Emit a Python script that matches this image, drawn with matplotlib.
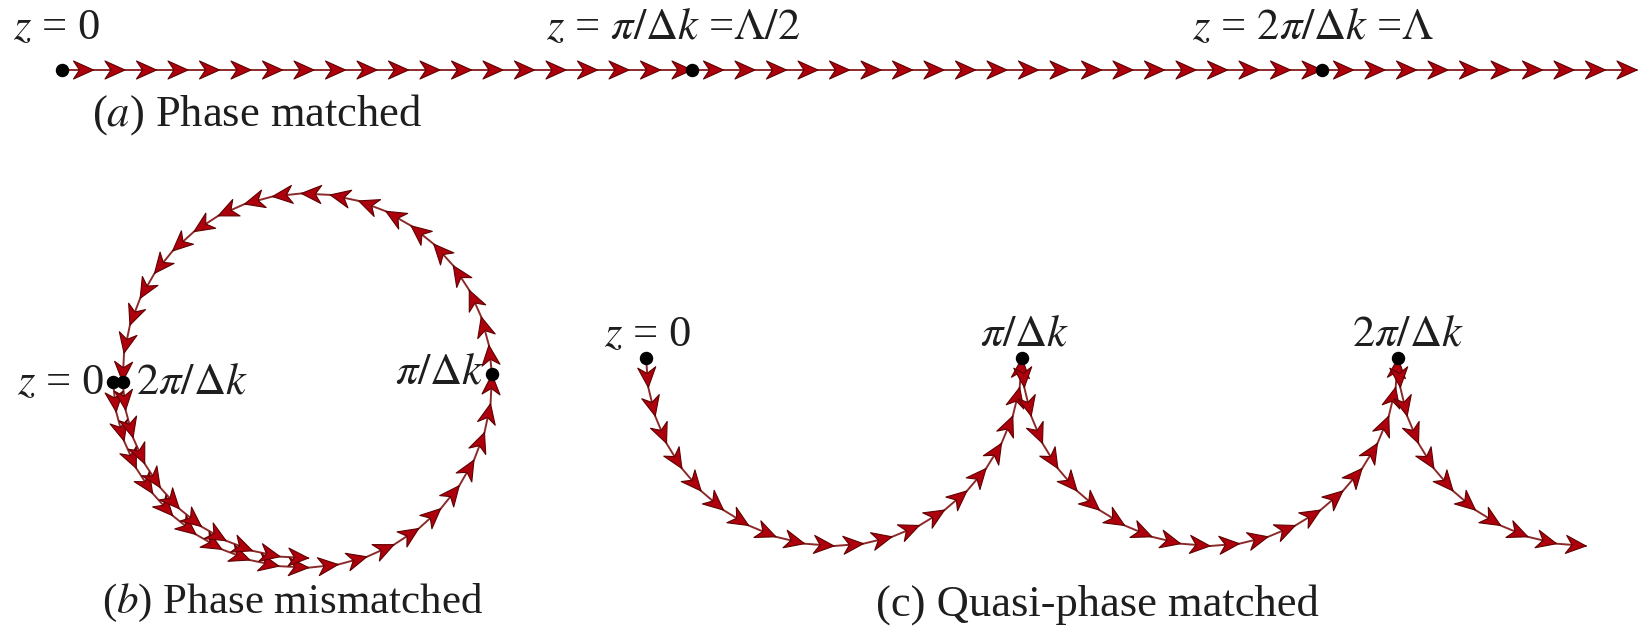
## Phasor diagrams for phase matching / mismatch / quasi-phase matching
import numpy as np
import matplotlib
matplotlib.use('Agg')
import matplotlib.pyplot as plt
from matplotlib.patches import Polygon
from matplotlib.collections import PatchCollection

plt.rcParams['mathtext.fontset'] = 'stix'
plt.rcParams['font.family'] = ['Liberation Serif', 'DejaVu Serif']

## Phasor model (each phasor = field added by one thin slab of crystal)
n_per_lc = 20   # phasors per coherence length pi/dk
n_total = 50    # phasors drawn in each panel (2.5 coherence lengths)
dot_idx = [0, 20, 40]  # phasor index at z = 0, pi/dk, 2pi/dk
tilt_b = 1.6    # small rotation of panel (b) [deg]
taper_b = 0.00125  # small loss of phasor size per slab in panel (b)

## Label texts
top_labels = [r'$z$ = 0', r'$z$ = $\pi/\Delta k$ =$\Lambda/2$', r'$z$ = $2\pi/\Delta k$ =$\Lambda$']
b_labels = [r'$z$ = 0', r'$2\pi/\Delta k$', r'$\pi/\Delta k$']
c_labels = [r'$z$ = 0', r'$\pi/\Delta k$', r'$2\pi/\Delta k$']
captions = [r'($a$) Phase matched', r'($b$) Phase mismatched', '(c) Quasi-phase matched']

## Layout (pixel units of the 1640x628 canvas)
W, H = 1640, 628
start_a, step_a = (62, 70), 31.5
start_b, step_b = (113, 382), 30.1
start_c, step_c = (646, 358), 29.5
line_col = '#8c2a2a'
head_face = '#ad000c'
head_edge = '#600000'
txt_col = '#1e1e1e'
fs = 32

## Phase of each phasor: dk*z at the middle of each slab
j = np.arange(n_total)
phase = (j + 0.5) * np.pi / n_per_lc

ang_a = np.zeros(n_total)                       # always in phase
len_a = np.full(n_total, step_a)
ang_b = -np.pi/2 + np.radians(tilt_b) + phase   # rotates all the time
len_b = step_b * (1 - taper_b * j)
ang_c = -np.pi/2 + phase + np.pi * (j // n_per_lc)  # sign flipped every Lc
len_c = np.full(n_total, step_c)


def path(start, ang, ln):
    # y axis points down on the canvas
    dx = ln * np.cos(ang)
    dy = -ln * np.sin(ang)
    x = start[0] + np.concatenate([[0], np.cumsum(dx)])
    y = start[1] + np.concatenate([[0], np.cumsum(dy)])
    return x, y


def draw_phasors(ax, x, y, hl=20, hw=18, notch=6):
    ax.plot(x, y, color=line_col, lw=1.4, zorder=2, solid_capstyle='round')
    heads = []
    for i in range(len(x) - 1):
        ux, uy = x[i+1] - x[i], y[i+1] - y[i]
        n = np.hypot(ux, uy)
        ux, uy = ux / n, uy / n
        px, py = -uy, ux
        tip = np.array([x[i+1], y[i+1]])
        back = tip - hl * np.array([ux, uy])
        verts = [tip,
                 back + hw/2 * np.array([px, py]),
                 tip - (hl - notch) * np.array([ux, uy]),
                 back - hw/2 * np.array([px, py])]
        heads.append(Polygon(verts, closed=True))
    ax.add_collection(PatchCollection(heads, facecolor=head_face,
                                      edgecolor=head_edge, lw=0.8, zorder=3))
    ax.scatter(x[dot_idx], y[dot_idx], s=75, color='black', zorder=5)


fig = plt.figure(figsize=(W/100, H/100), dpi=100)
ax = fig.add_axes([0, 0, 1, 1])
ax.set_xlim(0, W)
ax.set_ylim(H, 0)
ax.set_aspect('equal')
ax.axis('off')

xa, ya = path(start_a, ang_a, len_a)
xb, yb = path(start_b, ang_b, len_b)
xc, yc = path(start_c, ang_c, len_c)
draw_phasors(ax, xa, ya)
draw_phasors(ax, xb, yb)
draw_phasors(ax, xc, yc)

## Panel (a) labels
ax.text(13, 28, top_labels[0], fontsize=fs, color=txt_col, ha='left', va='center')
ax.text(546, 28, top_labels[1], fontsize=fs, color=txt_col, ha='left', va='center')
ax.text(1192, 28, top_labels[2], fontsize=fs, color=txt_col, ha='left', va='center')
ax.text(92, 115, captions[0], fontsize=fs, color=txt_col, ha='left', va='center')

## Panel (b) labels
ax.text(104, 383, b_labels[0], fontsize=fs, color=txt_col, ha='right', va='center')
ax.text(136, 383, b_labels[1], fontsize=fs, color=txt_col, ha='left', va='center')
ax.text(484, 373, b_labels[2], fontsize=fs, color=txt_col, ha='right', va='center')
ax.text(102, 603, captions[1], fontsize=fs - 1, color=txt_col, ha='left', va='center')

## Panel (c) labels
ax.text(604, 335, c_labels[0], fontsize=fs, color=txt_col, ha='left', va='center')
ax.text(1025, 335, c_labels[1], fontsize=fs, color=txt_col, ha='center', va='center')
ax.text(1408, 335, c_labels[2], fontsize=fs, color=txt_col, ha='center', va='center')
ax.text(876, 605, captions[2], fontsize=fs, color=txt_col, ha='left', va='center')

fig.savefig('out.png', dpi=100, facecolor='white')
